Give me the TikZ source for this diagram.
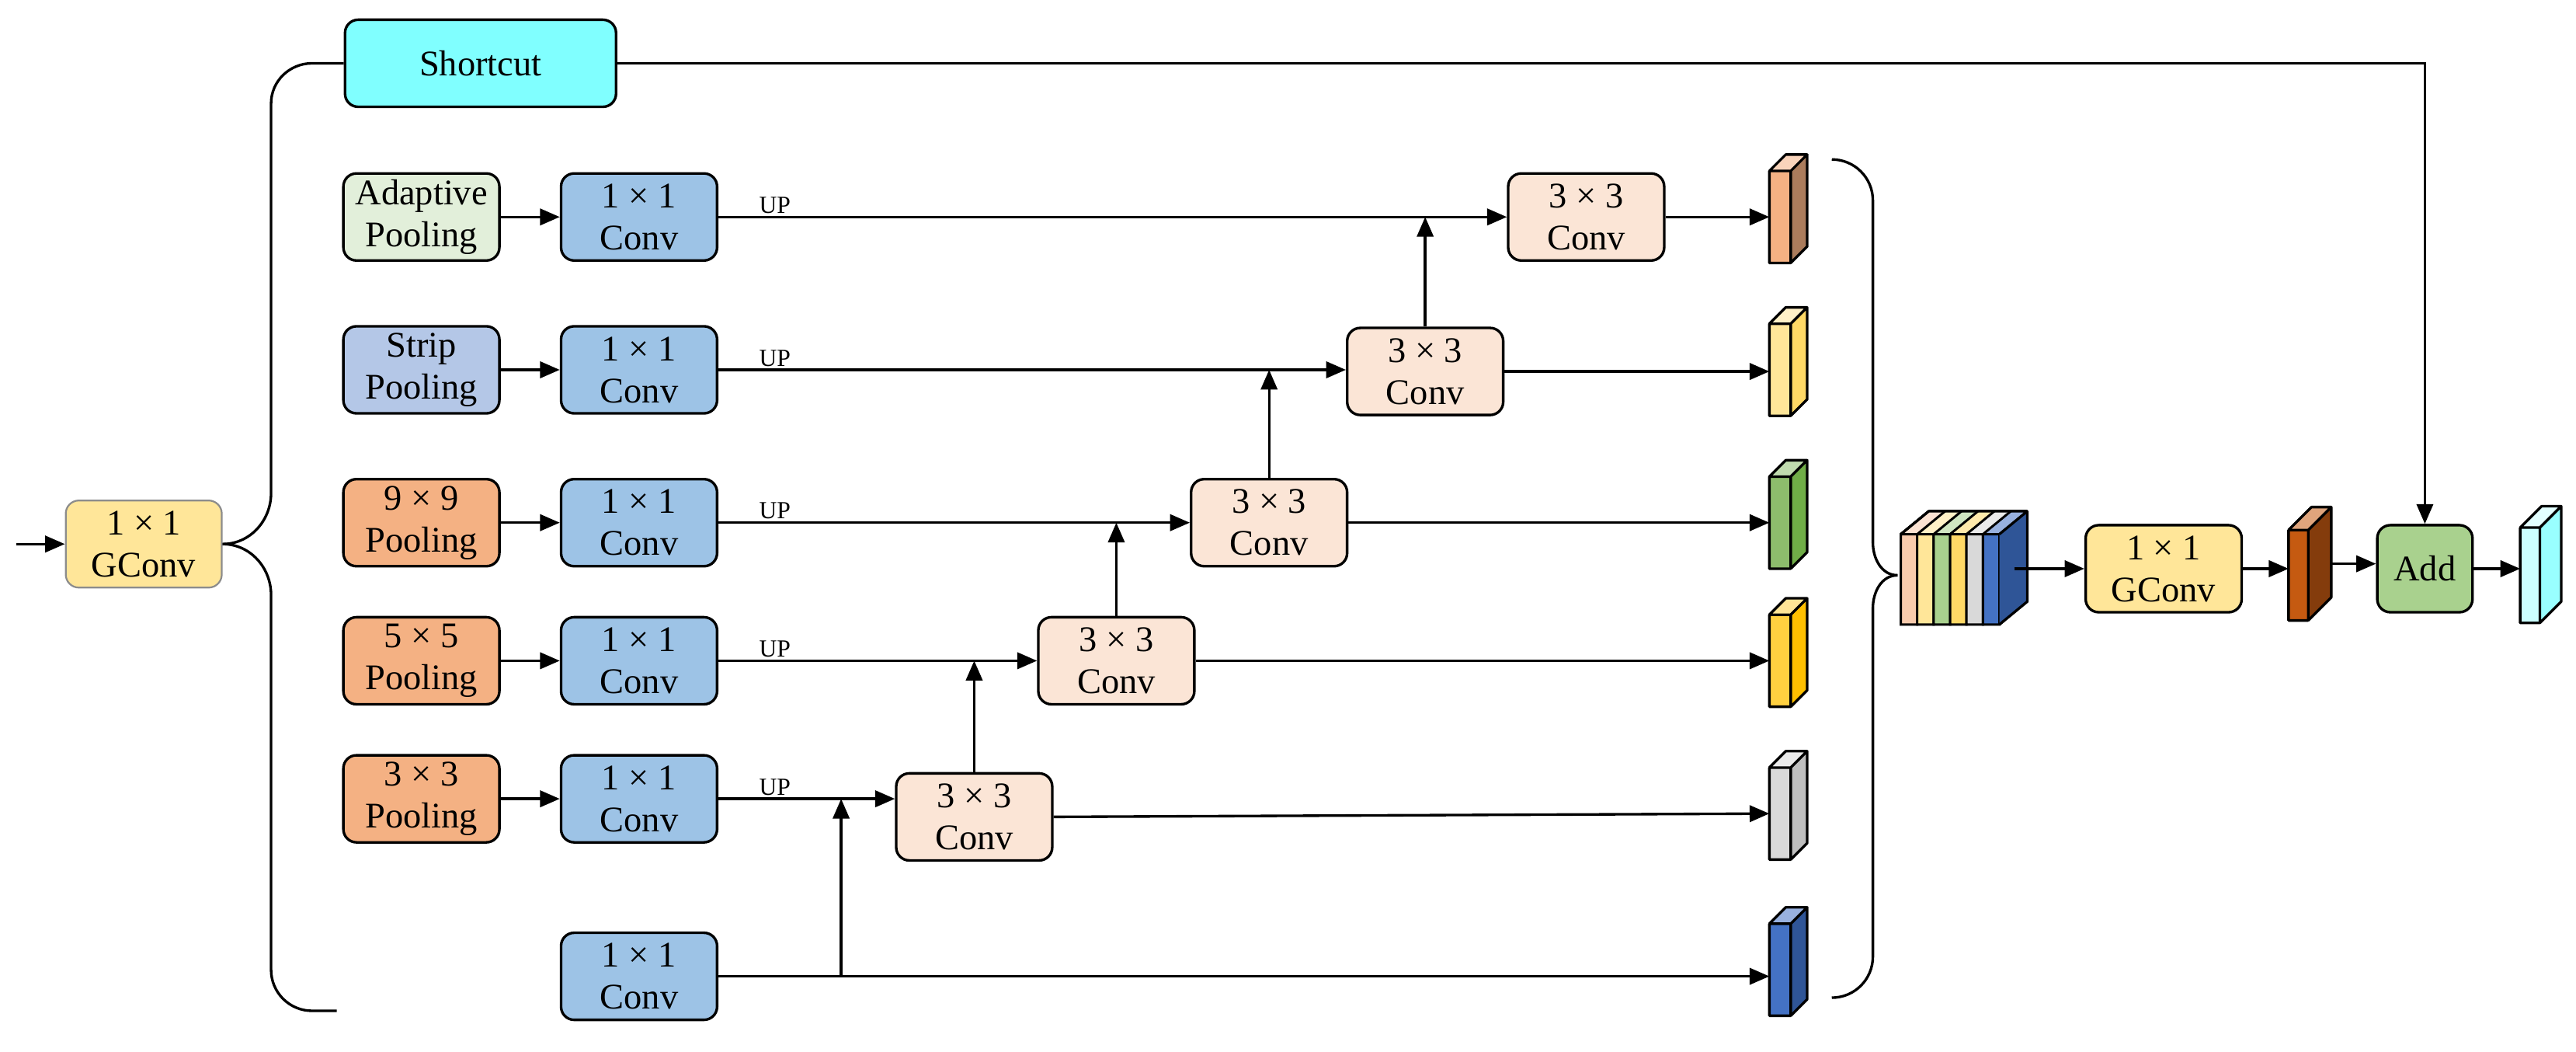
\documentclass[tikz,border=0pt]{standalone}
\usepackage{fontspec}
\setmainfont{Liberation Serif}
\usetikzlibrary{arrows.meta}
\definecolor{cyanS}{HTML}{80FFFF}
\definecolor{adp}{HTML}{E2EFDA}
\definecolor{strip}{HTML}{B4C7E7}
\definecolor{pool}{HTML}{F4B183}
\definecolor{conv}{HTML}{9DC3E6}
\definecolor{ccc}{HTML}{FBE5D6}
\definecolor{gconv}{HTML}{FFE699}
\definecolor{addg}{HTML}{A9D18E}
\definecolor{f1}{HTML}{F8CBAD}\definecolor{s1}{HTML}{F4B183}
\definecolor{f2}{HTML}{FFE699}\definecolor{s2}{HTML}{FFD966}
\definecolor{f3}{HTML}{A9D18E}\definecolor{s3}{HTML}{70AD47}
\definecolor{f4}{HTML}{FFD966}\definecolor{s4}{HTML}{FFC000}
\definecolor{f5}{HTML}{D9D9D9}\definecolor{s5}{HTML}{BFBFBF}
\definecolor{f6}{HTML}{4472C4}\definecolor{s6}{HTML}{2F5597}
\definecolor{f7}{HTML}{C55A11}\definecolor{s7}{HTML}{843C0C}
\definecolor{f8}{HTML}{CCFFFF}\definecolor{s8}{HTML}{99FFFF}
\newcommand\mycube[8]{% name, x, y(center), w, h, d, front, side
  \fill[#8] (#2+#4,#3-#5/2) -- ++(#6,-#6) -- ++(0,#5) -- ++(-#6,#6) -- cycle;
  \fill[#7!55!white] (#2,#3-#5/2) -- ++(#6,-#6) -- ++(#4,0) -- ++(-#6,#6) -- cycle;
  \fill[#7] (#2,#3-#5/2) rectangle (#2+#4,#3+#5/2);
  \draw[line width=0.9pt,line join=round] (#2,#3-#5/2) rectangle (#2+#4,#3+#5/2)
     (#2,#3-#5/2) -- ++(#6,-#6) -- ++(#4,0) -- ++(-#6,#6)
     (#2+#4+#6,#3-#5/2-#6) -- ++(0,#5) -- ++(-#6,#6);
  \coordinate (#1) at (#2,#3);
  \coordinate (#1r) at (#2+#4+#6,#3-#6/2);
}
\begin{document}
\begin{tikzpicture}[x=0.02cm,y=-0.02cm,
  box/.style={draw,line width=0.9pt,rounded corners=0.16cm,minimum width=1.9cm,minimum height=1.06cm,
    align=center,font=\fontsize{12.5}{14.5}\selectfont,inner sep=0pt},
  arr/.style={line width=0.9pt,-{Triangle[length=0.24cm,width=0.2cm]}},
  ln/.style={line width=0.9pt},
  up/.style={font=\fontsize{8.5}{10}\selectfont,anchor=south west,inner sep=1pt}]
\useasboundingbox (0,0) rectangle (1568,640);
% input
\node[box,fill=gconv,draw=black!45,line width=0.6pt] (g1) at (87.5,331) {1 × 1\\GConv};
\coordinate (in) at (10,331);
\draw[arr] (in) -- (g1);
\node[box,fill=cyanS,minimum width=3.3cm] (sc) at (292.5,38.5) {Shortcut};
\coordinate (bl) at (205,615);
\draw[ln] (g1.east) to[out=0,in=-90] (165,300) -- (165,63) to[out=90,in=180] (190,38.5) -- (sc.west);
\draw[ln] (g1.east) to[out=0,in=90] (165,362) -- (165,590) to[out=-90,in=180] (190,615) -- (bl);
% pooling
\node[box,fill=adp] (p1) at (256.5,132) {Adaptive\\Pooling};
\node[box,fill=strip] (p2) at (256.5,225) {Strip\\Pooling};
\node[box,fill=pool] (p3) at (256.5,318) {9 × 9\\Pooling};
\node[box,fill=pool] (p4) at (256.5,402) {5 × 5\\Pooling};
\node[box,fill=pool] (p5) at (256.5,486) {3 × 3\\Pooling};
\foreach \i/\y in {1/132,2/225,3/318,4/402,5/486}{
  \node[box,fill=conv] (c\i) at (389,\y) {1 × 1\\Conv};
  \draw[arr] (p\i) -- (c\i);
  \node[up] at (460,\y) {UP};
}
\node[box,fill=conv] (c6) at (389,594) {1 × 1\\Conv};
% 3x3 convs
\node[box,fill=ccc] (k1) at (965.5,132) {3 × 3\\Conv};
\node[box,fill=ccc] (k2) at (867.5,226) {3 × 3\\Conv};
\node[box,fill=ccc] (k3) at (772.5,318) {3 × 3\\Conv};
\node[box,fill=ccc] (k4) at (679.5,402) {3 × 3\\Conv};
\node[box,fill=ccc] (k5) at (593,497) {3 × 3\\Conv};
\draw[arr] (c1) -- (k1);
\draw[arr] (c2) -- (c2 -| k2.west);
\draw[arr] (c3) -- (k3);
\draw[arr] (c4) -- (c4 -| k4.west);
\draw[arr] (c5.east) -- (c5 -| k5.west);
\draw[arr] (k2.north) -- (k2.north |- c1);
\draw[arr] (k3.north) -- (k3.north |- c2);
\draw[arr] (k4.north) -- (k4.north |- c3);
\draw[arr] (k5.north) -- (k5.north |- c4);
\coordinate (j6) at (512,594);
\draw[arr] (j6) -- (j6 |- c5);
% cubes
\mycube{o1}{1077}{132}{13}{56}{10}{s1}{s1!70!black}
\mycube{o2}{1077}{225}{13}{56}{10}{f2}{s2}
\mycube{o3}{1077}{318}{13}{56}{10}{s3!80!white}{s3}
\mycube{o4}{1077}{402}{13}{56}{10}{s4!75!white}{s4}
\mycube{o5}{1077}{495}{13}{56}{10}{f5}{s5}
\mycube{o6}{1077}{590}{13}{56}{10}{f6}{s6}
\draw[arr] (k1) -- (o1);
\draw[arr] (k2) -- (o2 |- k2);
\draw[arr] (k3) -- (o3 |- k3);
\draw[arr] (k4.east) -- (o4);
\draw[arr] (k5.east) -- (o5);
\draw[arr] (c6) -- (o6 |- c6);
% right brace
\coordinate (rb1) at (1115,97);
\coordinate (rb2) at (1115,607);
\coordinate (cusp) at (1155,350);
\draw[ln] (rb1) to[out=0,in=90] (1140,122) -- (1140,330) to[out=-90,in=180] (cusp);
\draw[ln] (rb2) to[out=0,in=-90] (1140,582) -- (1140,370) to[out=90,in=180] (cusp);
% stack
\foreach \i in {1,...,6}{
  \fill[f\i!55!white] (1147+10*\i,325) -- ++(17,-14) -- ++(10,0) -- ++(-17,14) -- cycle;
  \fill[f\i] (1147+10*\i,325) rectangle ++(10,55);
  \draw[line width=0.8pt] (1147+10*\i,325) rectangle ++(10,55) (1147+10*\i,325) -- ++(17,-14);
}
\fill[s6] (1217,325) -- ++(17,-14) -- ++(0,55) -- ++(-17,14) -- cycle;
\draw[line width=0.9pt,line join=round] (1157,325) -- ++(17,-14) -- ++(60,0) -- ++(0,55) -- ++(-17,14) (1217,325) -- ++(17,-14);
\coordinate (str) at (1226,346);
% tail
\node[box,fill=gconv] (g2) at (1317,346) {1 × 1\\GConv};
\mycube{oc}{1393}{350}{12}{55}{14}{f7}{s7}
\node[box,fill=addg,minimum width=1.16cm] (add) at (1476,346) {Add};
\mycube{oy}{1534}{350}{12}{58}{13}{f8}{s8}
\draw[arr] (str) -- (str -| g2.west);
\draw[arr] (g2.east) -- (g2.east -| oc);
\draw[arr] (ocr) -- (ocr -| add.west);
\draw[arr] (add.east) -- (add.east -| oy);
\draw[arr] (sc.east) -| (add.north);
\end{tikzpicture}
\end{document}
